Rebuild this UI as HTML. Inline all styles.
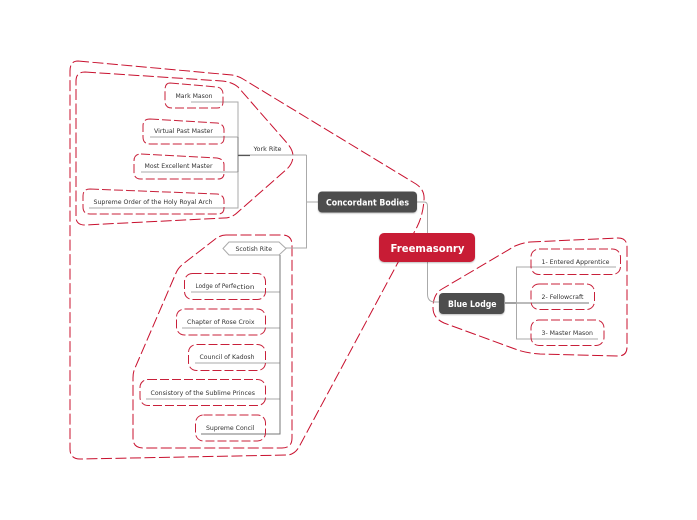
<!DOCTYPE html>
<html><head><meta charset="utf-8">
<style>
html,body{margin:0;padding:0;background:#fff;width:697px;height:520px;overflow:hidden}
svg{display:block}
text{font-family:"DejaVu Sans",sans-serif;fill:#333;font-size:6.2px}
.b{fill:none;stroke:#c8102e;stroke-width:1;stroke-dasharray:11 3.5}
.n{fill:none;stroke:#c8203a;stroke-width:1;stroke-dasharray:9 3}
.l{fill:none;stroke:#aaa;stroke-width:1}
.d{fill:none;stroke:#777;stroke-width:1}
.w{font-weight:bold;fill:#fff}
</style></head><body>
<svg width="697" height="520" viewBox="0 0 697 520" xmlns="http://www.w3.org/2000/svg">
<defs><filter id="s" x="-10%" y="-10%" width="120%" height="130%"><feDropShadow dx="0" dy="1" stdDeviation="0.7" flood-color="#000" flood-opacity=".25"/></filter></defs>

<!-- boundaries -->
<path class="b" d="M78 61 L232 75 Q238 76 243 79 L416 184 Q425 190 424 200 Q423 215 417 227 L299 447 Q295 454 288 455 L80 459 Q70 459 70 449 L70 71 Q70 61 78 61Z"/>
<path class="b" d="M85 72 L222 81 Q232 82 238 87 L287 143 Q293 150 293 156 Q293 163 287 169 L238 212 Q232 218 224 218 L85 225 Q76 225 76 217 L76 81 Q76 72 85 72Z"/>
<path class="b" d="M226 235 L282 235 Q292 235 292 245 L292 438 Q292 448 282 448 L143 448 Q133 448 133 438 L133 378 Q133 372 135 368 L176 273 Q178 268 183 264 L214 240 Q220 235 226 235Z"/>
<path class="b" d="M530 242 L618 238 Q627 238 627 247 L627 347 Q627 356 618 356 L540 354 Q525 353 515 349 L444 323 Q433 318 433 308 Q433 294 442 289 L515 246 Q522 243 530 242Z"/>

<!-- connectors -->
<path class="l" d="M417 202 H424 Q427.500 202 427.500 206 V234 M427.500 262 V294 Q427.500 302 435 302 H439" stroke-width="1.500"/>
<path class="l" d="M318 202 H306.500 M306.500 155 V248 H285 M306.500 155 H238"/>
<path class="l" d="M191 102 H238 V208 H89"/>
<path class="l" d="M150 137 H238 M141 172 H238"/>
<path class="d" d="M238 137 V172"/>
<path d="M238 155.500 H250" fill="none" stroke="#555" stroke-width="1.200"/>
<path class="l" d="M191 292 H280 M182 328 H280 M195 363 H280 M146 399 H280"/>
<path class="d" d="M280 255 V434 H201"/>
<path class="d" d="M505 303 H589"/>
<path d="M505 303 H516" fill="none" stroke="#444" stroke-width="1"/>
<path class="l" d="M616 267 H516.500 V339 H598"/>

<!-- leaf outlines -->
<path class="n" d="M170 83 L217 87 Q223 88 223 94 L223 102 Q223 108 217 108 L172 108 Q165 108 165 101 L165 90 Q165 83 170 83Z"/>
<path class="n" d="M150 119 L217 123 Q224 124 224 130 L224 138 Q224 144 218 144 L150 144 Q143 144 143 137 L143 126 Q143 119 150 119Z"/>
<path class="n" d="M141 154 L217 158 Q224 159 224 165 L224 173 Q224 179 218 179 L141 179 Q134 179 134 172 L134 161 Q134 154 141 154Z"/>
<path class="n" d="M90 189 L217 194 Q224 195 224 201 L224 208 Q224 214 218 214 L90 214 Q83 214 83 207 L83 196 Q83 189 90 189Z"/>

<rect class="n" x="184.500" y="273.500" width="81" height="26" rx="8"/>
<rect class="n" x="176.500" y="309" width="89" height="26" rx="8"/>
<rect class="n" x="188.500" y="344.500" width="77" height="26" rx="8"/>
<rect class="n" x="140" y="379.500" width="125.500" height="26" rx="8"/>
<rect class="n" x="195.500" y="415" width="70" height="26" rx="8"/>

<rect class="n" x="531" y="249" width="89.500" height="25.500" rx="8"/>
<rect class="n" x="531" y="284" width="63.500" height="25.500" rx="8"/>
<rect class="n" x="531" y="320" width="73" height="25.500" rx="8"/>

<!-- leaf labels -->
<text x="175.500" y="98" textLength="37" lengthAdjust="spacingAndGlyphs">Mark Mason</text>
<text x="154" y="133" textLength="59" lengthAdjust="spacingAndGlyphs">Virtual Past Master</text>
<text x="144.500" y="168" textLength="68" lengthAdjust="spacingAndGlyphs">Most Excellent Master</text>
<text x="93.500" y="204" textLength="119" lengthAdjust="spacingAndGlyphs">Supreme Order of the Holy Royal Arch</text>
<text x="253.500" y="151" textLength="28" lengthAdjust="spacingAndGlyphs">York Rite</text>

<path d="M223 248.500 L229 242 H279 L286 248.500 L279 255 H229Z" fill="#fff" stroke="#aaa" stroke-width="1"/>
<text x="235.500" y="251" textLength="36.500" lengthAdjust="spacingAndGlyphs">Scotish Rite</text>

<text x="195.500" y="288" textLength="41" lengthAdjust="spacingAndGlyphs">Lodge of Perfe</text>
<text x="236.500" y="289" textLength="18" lengthAdjust="spacingAndGlyphs">ction</text>
<text x="187" y="324" textLength="67.500" lengthAdjust="spacingAndGlyphs">Chapter of Rose Croix</text>
<text x="199.500" y="359" textLength="55" lengthAdjust="spacingAndGlyphs">Council of Kadosh</text>
<text x="150.500" y="395" textLength="104.500" lengthAdjust="spacingAndGlyphs">Consistory of the Sublime Princes</text>
<text x="206" y="430" textLength="48.500" lengthAdjust="spacingAndGlyphs">Supreme Concil</text>

<text x="541.500" y="264" textLength="68" lengthAdjust="spacingAndGlyphs">1- Entered Apprentice</text>
<text x="541.500" y="299" textLength="42" lengthAdjust="spacingAndGlyphs">2- Fellowcraft</text>
<text x="541.500" y="335" textLength="51.500" lengthAdjust="spacingAndGlyphs">3- Master Mason</text>

<!-- main nodes -->
<rect x="318" y="191.500" width="99" height="21" rx="4" fill="#4d4d4d" filter="url(#s)"/>
<text class="w" x="326" y="205.500" style="font-size:8.500px" textLength="83" lengthAdjust="spacingAndGlyphs">Concordant Bodies</text>
<rect x="439" y="293" width="65.500" height="21" rx="4" fill="#4d4d4d" filter="url(#s)"/>
<text class="w" x="448" y="307" style="font-size:8.500px" textLength="48.500" lengthAdjust="spacingAndGlyphs">Blue Lodge</text>
<rect x="379" y="233" width="96" height="29" rx="5" fill="#c81f35" filter="url(#s)"/>
<text class="w" x="390.500" y="252" style="font-size:10.500px" textLength="74" lengthAdjust="spacingAndGlyphs">Freemasonry</text>
</svg>
</body></html>
